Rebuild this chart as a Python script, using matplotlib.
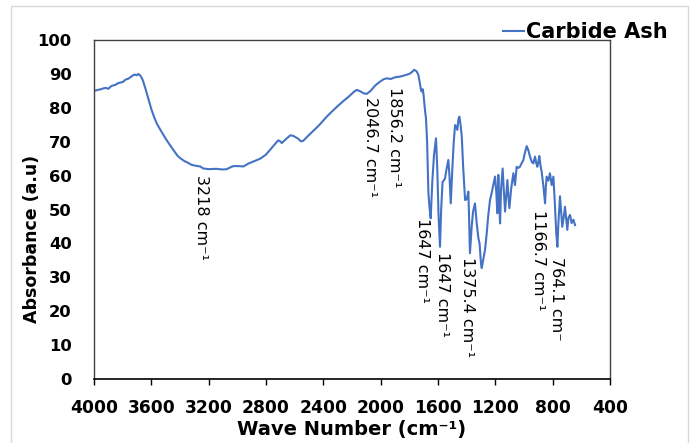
import matplotlib.pyplot as plt
from matplotlib.patches import Rectangle

# FTIR spectrum of carbide ash (wavenumber in cm-1, absorbance in a.u.)
wavenumber = [
    4000, 3960, 3920, 3900, 3880, 3850, 3830, 3800, 3780, 3760, 3740, 3720,
    3700, 3690, 3675, 3660, 3640, 3620, 3600, 3580, 3560, 3530, 3500, 3470,
    3440, 3420, 3400, 3370, 3350, 3320, 3290, 3260, 3237, 3200, 3150, 3100,
    3074, 3050, 3028, 2990, 2958, 2920, 2880, 2840, 2800, 2772, 2740, 2715,
    2700, 2690, 2660, 2630, 2609, 2580, 2555, 2539, 2500, 2450, 2420, 2376,
    2340, 2300, 2260, 2220, 2190, 2167, 2140, 2120, 2097, 2070, 2040, 2005,
    1980, 1958, 1930, 1900, 1865, 1830, 1800, 1780, 1767, 1750, 1737, 1726,
    1720, 1714, 1707, 1702, 1690, 1684, 1676, 1667, 1660, 1651, 1640, 1628,
    1614, 1605, 1596, 1586, 1578, 1568, 1560, 1551, 1540, 1528, 1520, 1511,
    1500, 1490, 1481, 1473, 1465, 1458, 1451, 1444, 1434, 1425, 1411, 1400,
    1388, 1377, 1365, 1355, 1342, 1330, 1318, 1310, 1300, 1295, 1285, 1272,
    1260, 1250, 1237, 1225, 1215, 1202, 1193, 1186, 1179, 1173, 1167, 1160,
    1149, 1140, 1132, 1124, 1116, 1109, 1102, 1090, 1074, 1063, 1051, 1040,
    1030, 1016, 1005, 995, 981, 970, 958, 945, 935, 923, 915, 907,
    900, 893, 885, 877, 865, 853, 847, 842, 830, 819, 807, 795,
    785, 775, 767, 760, 749, 740, 733, 722, 714, 705, 698, 690,
    679, 668, 655, 644,
]
absorbance = [
    85.0, 85.4, 85.9, 85.6, 86.4, 86.8, 87.3, 87.6, 88.3, 88.6, 89.2, 89.8,
    89.6, 90.0, 89.4, 88.2, 85.5, 82.5, 79.6, 77.2, 75.2, 73.0, 70.9, 69.0,
    67.2, 66.0, 65.2, 64.3, 63.9, 63.2, 62.9, 62.7, 62.1, 61.9, 62.0, 61.8,
    61.9, 62.4, 62.8, 62.8, 62.7, 63.6, 64.3, 65.0, 66.2, 67.6, 69.2, 70.4,
    70.1, 69.6, 70.8, 71.9, 71.7, 71.0, 70.1, 70.3, 72.0, 74.0, 75.3, 77.4,
    78.9, 80.5, 82.0, 83.4, 84.6, 85.3, 84.8, 84.3, 84.1, 85.0, 86.5, 87.7,
    88.4, 88.7, 88.5, 89.0, 89.2, 89.6, 90.0, 90.6, 91.2, 90.8, 89.7, 87.2,
    85.5, 84.8, 85.5, 84.3, 79.0, 77.0, 70.0, 54.8, 51.0, 47.4, 58.0, 66.0,
    71.0, 62.0, 48.0, 39.0, 50.0, 58.2, 58.5, 59.2, 62.0, 64.6, 60.0, 51.8,
    62.0, 70.0, 74.9, 74.5, 73.5, 76.5, 77.4, 75.5, 71.5, 63.0, 52.8, 53.0,
    55.3, 37.1, 45.0, 49.5, 51.8, 46.0, 41.5, 40.0, 34.0, 32.7, 35.0, 38.1,
    43.0, 48.0, 52.8, 55.0, 57.0, 59.7, 55.0, 48.9, 60.2, 52.0, 45.9, 56.0,
    62.1, 55.0, 49.4, 54.0, 58.7, 54.0, 50.4, 56.0, 60.7, 57.2, 62.6, 62.3,
    62.5, 63.7, 64.5, 66.5, 68.7, 67.5, 65.6, 64.0, 63.6, 65.6, 63.8, 62.6,
    64.0, 65.8, 63.0, 61.2, 57.0, 51.8, 57.0, 59.7, 58.5, 60.7, 57.2, 59.7,
    52.0, 43.0, 39.0, 46.0, 53.9, 49.0, 44.9, 48.0, 50.8, 47.0, 44.0, 47.5,
    48.4, 46.0, 47.0, 45.4,
]

# peak labels: text, x (cm-1), top of label (a.u.)
peak_labels = ['3218 cm⁻¹', '2046.7 cm⁻¹', '1856.2 cm⁻¹', '1647 cm⁻¹',
               '1647 cm⁻¹', '1375.4 cm⁻¹', '1166.7 cm⁻¹', '764.1 cm⁻']
peak_x = [3247, 2074, 1900, 1705, 1572, 1391, 902, 770]
peak_y = [60.2, 83.2, 86.1, 47.5, 37.5, 36.0, 49.9, 36.0]

xticks = [4000, 3600, 3200, 2800, 2400, 2000, 1600, 1200, 800, 400]
yticks = list(range(0, 101, 10))

fig = plt.figure(figsize=(6.98, 4.43), dpi=100)
ax = fig.add_axes([94 / 698, 1 - 379 / 443, 516 / 698, 339 / 443])

# light frame around the whole chart
fig.patches.append(Rectangle((11 / 698, -0.05), 677 / 698, 1.05 - 6 / 443,
                             transform=fig.transFigure, fill=False,
                             edgecolor='#d9d9d9', linewidth=1.0))

line, = ax.plot(wavenumber, absorbance, color='#4472C4', linewidth=1.5,
                label='Carbide Ash')

for txt, px, py in zip(peak_labels, peak_x, peak_y):
    ax.text(px, py, txt, rotation=270, ha='center', va='top',
            fontsize=11.5, color='black')

ax.set_xlim(4000, 400)
ax.set_ylim(0, 100)
ax.set_xticks(xticks)
ax.set_yticks(yticks)
ax.set_xticklabels([str(t) for t in xticks], fontweight='bold', fontsize=12.3)
ax.set_yticklabels([str(t) for t in yticks], fontweight='bold', fontsize=11.8)
ax.tick_params(axis='x', direction='out', length=4.5, width=1.0, pad=10)
ax.tick_params(axis='y', length=0, pad=16)

for side in ['top', 'right', 'left']:
    ax.spines[side].set_color('#404040')
    ax.spines[side].set_linewidth(1.0)
ax.spines['bottom'].set_color('black')
ax.spines['bottom'].set_linewidth(1.2)

fig.text(352 / 698, 1 - 430 / 443, 'Wave Number (cm⁻¹)', ha='center',
         va='center', fontsize=14, fontweight='bold')
fig.text(32 / 698, 1 - 239 / 443, 'Absorbance (a.u)', ha='center',
         va='center', rotation=90, fontsize=12.5, fontweight='bold')

fig.legend(handles=[line], loc='center left',
           bbox_to_anchor=(503 / 698, 1 - 32 / 443), frameon=False,
           prop={'weight': 'bold', 'size': 15}, handlelength=1.0,
           handletextpad=0.1, borderpad=0, borderaxespad=0)

fig.savefig('out.png', dpi=100)
plt.close(fig)
